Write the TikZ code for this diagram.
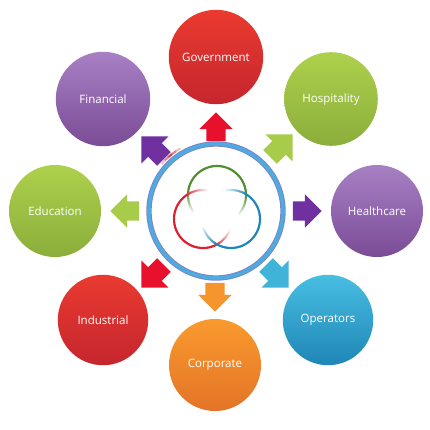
\documentclass[tikz,border=0pt]{standalone}
\usepackage{fontspec}
\setmainfont{Open Sans}
\usetikzlibrary{shapes.arrows, calc}

\definecolor{redA}{HTML}{EA3A30}
\definecolor{redB}{HTML}{C5262E}
\definecolor{greenA}{HTML}{ADD04C}
\definecolor{greenB}{HTML}{8BAE3C}
\definecolor{purpleA}{HTML}{A880C4}
\definecolor{purpleB}{HTML}{7A4C96}
\definecolor{blueA}{HTML}{48BEE2}
\definecolor{blueB}{HTML}{1F86B6}
\definecolor{orangeA}{HTML}{F99A2E}
\definecolor{orangeB}{HTML}{E37428}
\definecolor{ringblue}{HTML}{4FAADF}
\definecolor{ringedge}{HTML}{7E80C2}
\definecolor{logogreen}{HTML}{4F8F2F}
\definecolor{logored}{HTML}{DD1F2E}
\definecolor{arrowred}{HTML}{E8112D}
\definecolor{arrowpurple}{HTML}{7030A0}

\tikzset{
    sector/.style={circle, inner sep=0pt, minimum size=2.3cm, text=white, font=\fontsize{8.2}{10}\selectfont},
    blockarrow/.style={single arrow, anchor=tip, inner xsep=0pt, inner ysep=0.235cm, minimum height=0.72cm,
        single arrow head extend=0.175cm, single arrow head indent=0pt, shape border uses incircle=false},
    diagarrow/.style={blockarrow, single arrow head extend=0.24cm, minimum height=0.8cm},
}

% arc that fades to white at both ends
\newcommand{\fadearc}[6]{%
    \pgfmathsetmacro{\nexta}{#3+4}
    \pgfmathsetmacro{\lasta}{#4-4}
    \foreach \a in {#3,\nexta,...,\lasta} {
        \pgfmathsetmacro{\fade}{100*max(0,min(1,min(\a-#3,#4-\a-4)/#6))}
        \draw[#5!\fade!white, line width=1.5pt, line cap=round]
            ($(#1)+({#2*cos(\a)},{-#2*sin(\a)})$) -- ($(#1)+({#2*cos(\a+4)},{-#2*sin(\a+4)})$);
    }
}

\begin{document}
\begin{tikzpicture}[x=0.025cm, y=-0.025cm]
    \useasboundingbox (0,0) rectangle (430,430);

    % Outer circles
    \node[sector, minimum size=2.36cm, top color=redA, bottom color=redB] (gov) at (216,57) {Government};
    \node[sector, minimum size=2.34cm, top color=greenA, bottom color=greenB] (hosp) at (331,99) {Hospitality};
    \node[sector, top color=purpleA, bottom color=purpleB] (health) at (377,211) {Healthcare};
    \node[sector, minimum size=2.26cm, top color=blueA, bottom color=blueB] (oper) at (328,320) {Operators};
    \node[sector, top color=orangeA, bottom color=orangeB] (corp) at (215,365) {Corporate};
    \node[sector, minimum size=2.26cm, top color=redA, bottom color=redB] (indus) at (103,320) {Industrial};
    \node[sector, top color=greenA, bottom color=greenB] (edu) at (55,211) {Education};
    \node[sector, minimum size=2.36cm, top color=purpleA, bottom color=purpleB] (fin) at (103,99) {Financial};

    % Block arrows, placed by their tips
    \node[blockarrow, rotate=90, fill=arrowred] (agov) at (216,112) {};
    \node[diagarrow, rotate=45, fill=greenA!85!greenB] (ahosp) at (293,134) {};
    \node[blockarrow, rotate=0, fill=arrowpurple] (ahealth) at (322,211) {};
    \node[diagarrow, rotate=-45, fill=blueA!80!blueB] (aoper) at (289,288) {};
    \node[blockarrow, rotate=-90, fill=orangeA!85!orangeB] (acorp) at (215,312) {};
    \node[diagarrow, rotate=225, fill=arrowred] (aindus) at (141,288) {};
    \node[blockarrow, rotate=180, fill=greenA!85!greenB] (aedu) at (110,211) {};
    \node[diagarrow, rotate=135, fill=arrowpurple] (afin) at (141,136) {};

    % Small swoosh behind the ring
    \coordinate (ringc) at (216,211);
    \fadearc{ringc}{72}{116}{144}{redB}{14}

    % Centre ring
    \draw[ringedge, line width=3.8pt] (ringc) circle (67);
    \draw[ringblue, line width=2.6pt] (ringc) circle (67);

    % Three rings of the logo
    \coordinate (cgreen) at (217,195);
    \coordinate (cred) at (203,219);
    \coordinate (cblue) at (231,219);
    \fadearc{cgreen}{29}{-46}{222}{logogreen}{45}
    \fadearc{cred}{29}{79}{342}{logored}{45}
    \fadearc{cblue}{29}{-167}{107}{blueB}{45}
\end{tikzpicture}
\end{document}
